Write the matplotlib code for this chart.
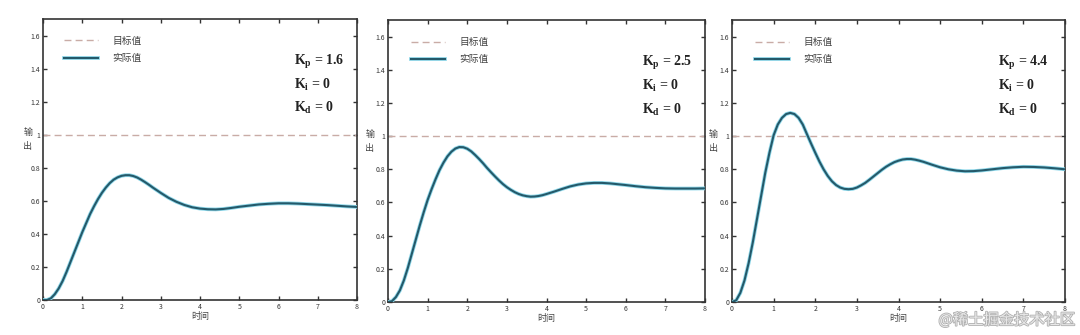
import matplotlib
matplotlib.use("Agg")
import matplotlib.pyplot as plt
import matplotlib.patheffects as pe

plt.rcParams['font.family'] = ['Noto Sans CJK SC', 'DejaVu Sans']
plt.rcParams['mathtext.fontset'] = 'custom'
plt.rcParams['mathtext.rm'] = 'Liberation Serif:bold'
plt.rcParams['mathtext.it'] = 'Liberation Serif:bold'
plt.rcParams['mathtext.bf'] = 'Liberation Serif:bold'

# ---- data ----
t1 = [0, 0.1, 0.2, 0.3, 0.4, 0.5, 0.6, 0.7, 0.8, 0.9, 1.0, 1.1, 1.2, 1.3, 1.4, 1.5, 1.6, 1.7, 1.8,
      1.9, 2.0, 2.1, 2.2, 2.3, 2.4, 2.5, 2.6, 2.7, 2.8, 2.9, 3.0, 3.2, 3.4, 3.6, 3.8, 4.0, 4.2, 4.4,
      4.6, 4.8, 5.0, 5.25, 5.5, 5.75, 6.0, 6.25, 6.5, 6.75, 7.0, 7.25, 7.5, 7.75, 8.0]
y1 = [0, 0.0, 0.01, 0.035, 0.07, 0.115, 0.17, 0.23, 0.29, 0.35, 0.41, 0.465, 0.52, 0.567, 0.61,
      0.648, 0.68, 0.707, 0.728, 0.742, 0.751, 0.755, 0.755, 0.75, 0.741, 0.728, 0.713, 0.697,
      0.68, 0.664, 0.648, 0.618, 0.594, 0.575, 0.561, 0.553, 0.549, 0.548, 0.551, 0.557, 0.564,
      0.571, 0.578, 0.582, 0.585, 0.585, 0.583, 0.58, 0.577, 0.574, 0.57, 0.566, 0.563]

t2 = [0, 0.1, 0.2, 0.3, 0.4, 0.5, 0.6, 0.7, 0.8, 0.9, 1.0, 1.1, 1.2, 1.3, 1.4, 1.5, 1.6, 1.7, 1.8,
      1.9, 2.0, 2.1, 2.2, 2.3, 2.4, 2.5, 2.6, 2.7, 2.8, 2.9, 3.0, 3.1, 3.2, 3.3, 3.4, 3.5, 3.6, 3.7,
      3.8, 3.9, 4.0, 4.2, 4.4, 4.6, 4.8, 5.0, 5.2, 5.4, 5.6, 5.8, 6.0, 6.25, 6.5, 6.75, 7.0, 7.25,
      7.5, 7.75, 8.0]
y2 = [0, 0.005, 0.03, 0.07, 0.13, 0.205, 0.29, 0.375, 0.46, 0.54, 0.615, 0.68, 0.74, 0.795, 0.84,
      0.878, 0.906, 0.925, 0.934, 0.933, 0.924, 0.908, 0.886, 0.862, 0.836, 0.808, 0.782, 0.757,
      0.733, 0.711, 0.692, 0.676, 0.662, 0.651, 0.643, 0.638, 0.635, 0.636, 0.639, 0.644, 0.651,
      0.666, 0.682, 0.697, 0.708, 0.715, 0.718, 0.718, 0.715, 0.71, 0.705, 0.698, 0.692, 0.688,
      0.685, 0.684, 0.684, 0.684, 0.685]

t3 = [0, 0.1, 0.2, 0.3, 0.4, 0.5, 0.6, 0.7, 0.8, 0.9, 1.0, 1.1, 1.2, 1.3, 1.4, 1.5, 1.6, 1.7, 1.8,
      1.9, 2.0, 2.1, 2.2, 2.3, 2.4, 2.5, 2.6, 2.7, 2.8, 2.9, 3.0, 3.1, 3.2, 3.3, 3.4, 3.5, 3.6, 3.7,
      3.8, 3.9, 4.0, 4.1, 4.2, 4.3, 4.4, 4.5, 4.6, 4.8, 5.0, 5.2, 5.4, 5.6, 5.8, 6.0, 6.25, 6.5,
      6.75, 7.0, 7.25, 7.5, 7.75, 8.0]
y3 = [0, 0.01, 0.055, 0.13, 0.235, 0.36, 0.5, 0.64, 0.78, 0.9, 1.005, 1.07, 1.11, 1.133, 1.14,
      1.133, 1.11, 1.07, 1.012, 0.955, 0.9, 0.847, 0.8, 0.76, 0.728, 0.705, 0.69, 0.682, 0.68,
      0.682, 0.69, 0.703, 0.718, 0.737, 0.757, 0.777, 0.797, 0.815, 0.83, 0.843, 0.852, 0.859,
      0.862, 0.862, 0.858, 0.852, 0.845, 0.828, 0.812, 0.8, 0.792, 0.788, 0.789, 0.793, 0.8,
      0.807, 0.812, 0.815, 0.814, 0.811, 0.806, 0.80]

gains = [("1.6", "0", "0"), ("2.5", "0", "0"), ("4.4", "0", "0")]
target = 1.0
xticks = [0, 1, 2, 3, 4, 5, 6, 7, 8]
yticks = [0, 0.2, 0.4, 0.6, 0.8, 1.0, 1.2, 1.4, 1.6]
yticklabels = ["0", "0.2", "0.4", "0.6", "0.8", "1", "1.2", "1.4", "1.6"]

series = [(t1, y1), (t2, y2), (t3, y3)]

W, H = 1080, 335
fig = plt.figure(figsize=(W / 100, H / 100), dpi=100)
rects_px = [(43, 19, 357, 300), (388, 20, 705, 302), (732, 20, 1065, 302)]
ylab_x = [-0.048, -0.057, -0.057]
leg_x = [0.067, 0.072, 0.069]

line_dark = '#24596a'
line_glow = '#8fd8ea'
dash_col = '#c9aca6'
serif_kw = dict(family='Liberation Serif', fontweight='bold', fontsize=10,
                va='center', ha='left', color='#222222')

for i, ((l, tp, r, b), (tt, yy), (kp, ki, kd)) in enumerate(zip(rects_px, series, gains)):
    ax = fig.add_axes([l / W, 1 - b / H, (r - l) / W, (b - tp) / H])
    ax.axhline(target, color=dash_col, lw=1.0, ls=(0, (5, 3)), label='目标值', zorder=2)
    ax.plot(tt, yy, color=line_dark, lw=1.5, zorder=4,
            path_effects=[pe.Stroke(linewidth=2.7, foreground=line_glow), pe.Normal()],
            label='实际值')
    ax.set_xlim(0, 8)
    ax.set_ylim(0, 1.7)
    ax.set_xticks(xticks)
    ax.set_xticklabels([str(v) for v in xticks])
    ax.set_yticks(yticks)
    ax.set_yticklabels(yticklabels)
    ax.tick_params(direction='in', length=3, width=1, top=True, right=True,
                   labelsize=5, colors='#333333', pad=2)
    for s in ax.spines.values():
        s.set_color('#333333')
        s.set_linewidth(1.2)
    ax.set_xlabel('时间', fontsize=6.5, color='#444444', labelpad=1)
    ax.text(ylab_x[i], 0.595, '输', transform=ax.transAxes, fontsize=6.5,
            color='#444444', ha='center', va='center')
    ax.text(ylab_x[i], 0.545, '出', transform=ax.transAxes, fontsize=6.5,
            color='#444444', ha='center', va='center')
    ax.legend(loc='upper left', frameon=False, fontsize=7, handlelength=3.5,
              bbox_to_anchor=(leg_x[i], 0.94), borderaxespad=0, borderpad=0,
              labelspacing=0.75, handletextpad=1.5, labelcolor='#444444')
    ax.text(0.80, 1.44 / 1.7, r'$K_p$ = ' + kp, transform=ax.transAxes, **serif_kw)
    ax.text(0.80, 1.30 / 1.7, r'$K_i$ = ' + ki, transform=ax.transAxes, **serif_kw)
    ax.text(0.80, 1.16 / 1.7, r'$K_d$ = ' + kd, transform=ax.transAxes, **serif_kw)

fig.text(1075 / W, 1 - 320 / H, '@稀土掘金技术社区', fontsize=11, color='#e8e8e8',
         ha='right', va='center',
         path_effects=[pe.withStroke(linewidth=1.2, foreground='#b0b0b0')])

fig.savefig('out.png', dpi=100, facecolor='white')
